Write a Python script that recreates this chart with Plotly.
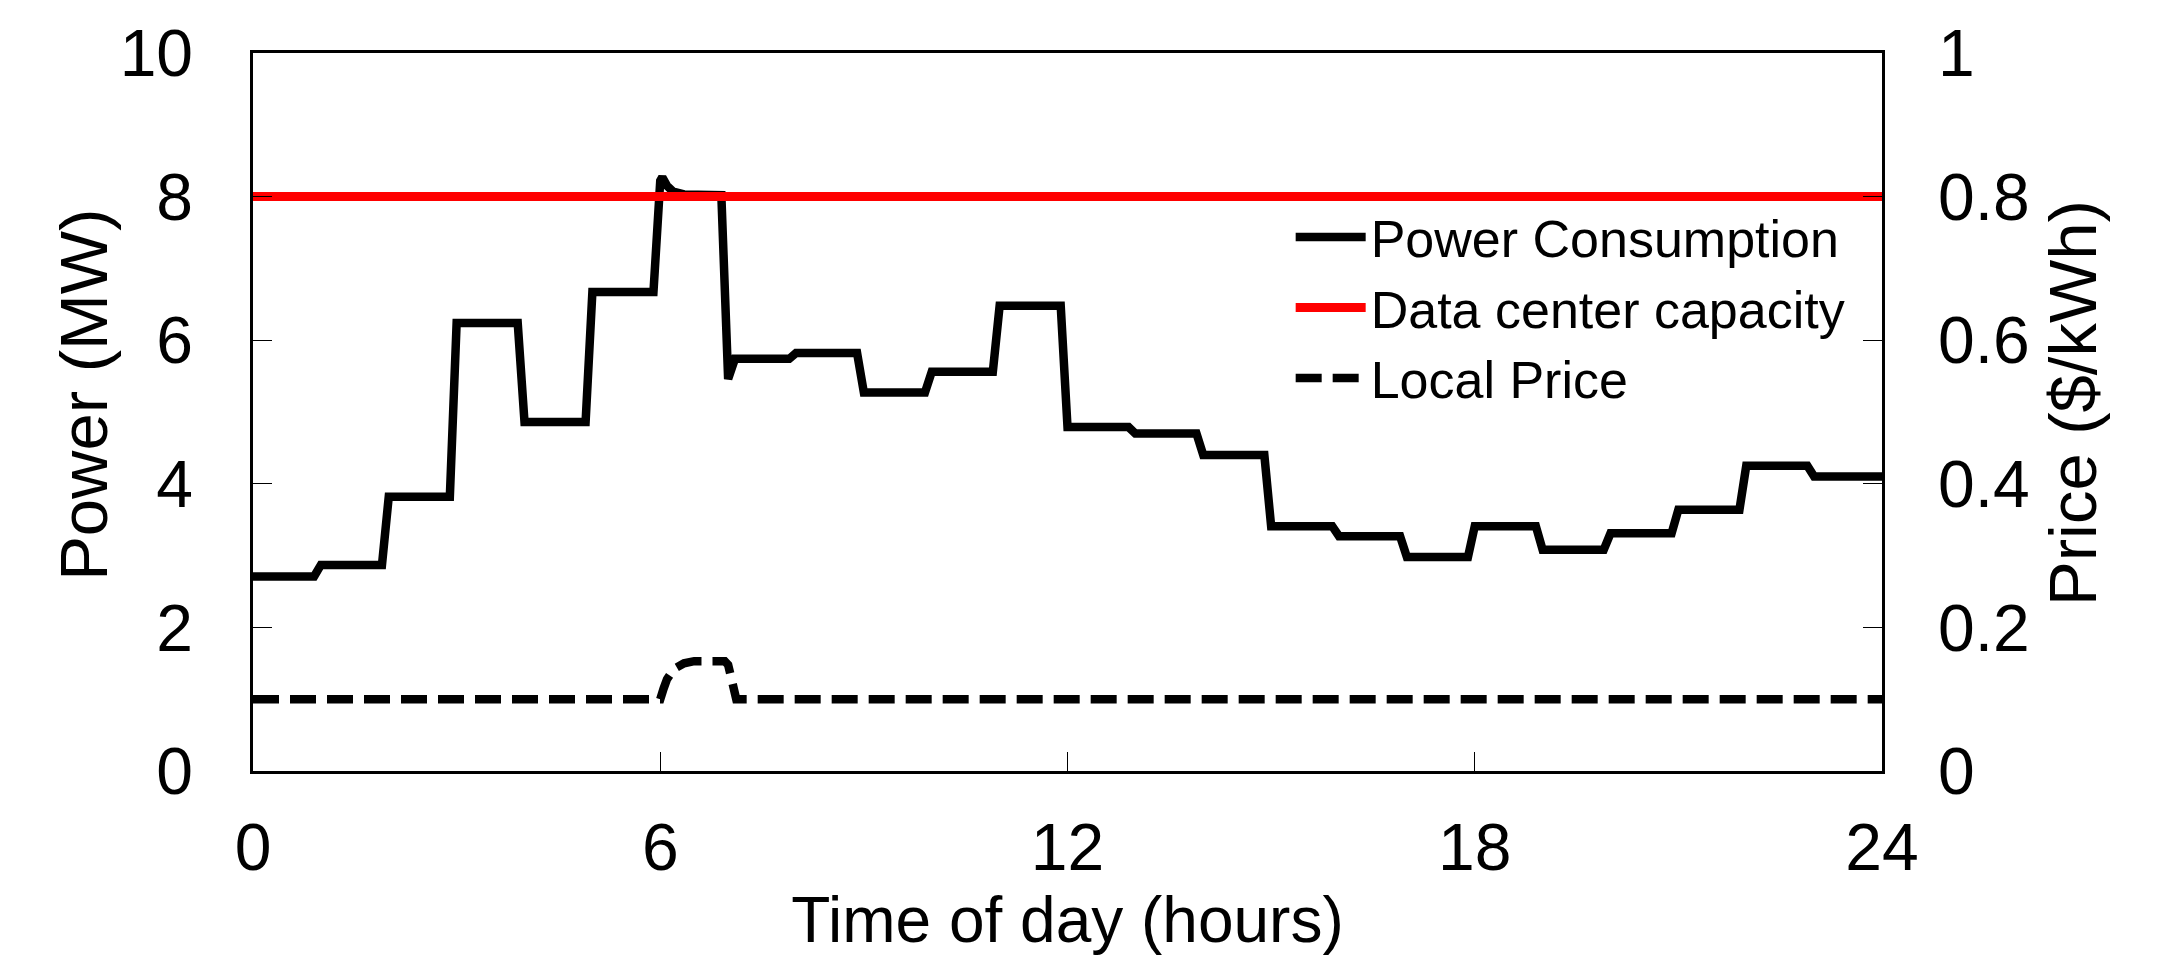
import plotly.graph_objects as go

# ---- data ----
hours = list(range(24))
power_mw = [2.71, 2.87, 3.82, 6.24, 4.86, 6.67, 8.02, 5.74, 5.82, 5.27, 5.56, 6.48,
            4.79, 4.70, 4.40, 3.41, 3.27, 2.98, 3.41, 3.08, 3.31, 3.64, 4.25, 4.10]
# transient overshoot at the start of hour 6 and dip at the start of hour 7
peak_t = [6.0, 6.03, 6.1, 6.19, 6.35, 6.5]
peak_mw = [8.22, 8.27, 8.15, 8.07, 8.03, 8.02]
dip_t = [7.0]
dip_mw = [5.46]

capacity_t = [0, 24]
capacity_mw = [8.0, 8.0]

price_t = [0, 6.0, 6.05, 6.1, 6.2, 6.35, 6.5, 6.95, 7.0, 7.05, 7.12, 24]
price_usd = [0.1, 0.1, 0.115, 0.128, 0.142, 0.150, 0.153, 0.153, 0.148, 0.125, 0.10, 0.10]

x_ticks = [0, 6, 12, 18, 24]

# ---- build stepped path (hourly values with a short ramp between hours) ----
ramp = 0.1
pt, pv = [], []
for h, v in zip(hours, power_mw):
    if h == 0:
        pt.append(h); pv.append(v)
    elif h == 6:
        pt.extend(peak_t); pv.extend(peak_mw)
    elif h == 7:
        pt.extend(dip_t); pv.extend(dip_mw)
        pt.append(h + ramp); pv.append(v)
    else:
        pt.append(h); pv.append(v)
    end = 24 if h == hours[-1] else h + 1 - ramp
    pt.append(end); pv.append(v)

FONT = "Liberation Sans, Arial, sans-serif"

fig = go.Figure()
fig.add_trace(go.Scatter(x=pt, y=pv, mode="lines", name="Power Consumption",
                         line=dict(color="black", width=8.5)))
fig.add_trace(go.Scatter(x=capacity_t, y=capacity_mw, mode="lines", name="Data center capacity",
                         line=dict(color="#ff0000", width=9)))
fig.add_trace(go.Scatter(x=price_t, y=price_usd, mode="lines", name="Local Price", yaxis="y2",
                         line=dict(color="black", width=8.5, dash="26px,11px")))

axis_common = dict(showline=True, linecolor="black", linewidth=2.5, ticks="inside",
                   ticklen=19, tickwidth=1.3, tickcolor="black", showgrid=False,
                   zeroline=False, automargin=False,
                   tickfont=dict(family=FONT, size=66, color="black"))

# the page body adds an 8px offset, so the figure is sized to fit the window
fig.update_layout(
    width=2155, height=953,
    margin=dict(l=245, r=281, t=45, b=190, autoexpand=False),
    paper_bgcolor="white", plot_bgcolor="white",
    font=dict(family=FONT, color="black"),
    showlegend=True,
    legend=dict(x=0.637, y=0.80, xanchor="left", yanchor="top",
                bgcolor="rgba(0,0,0,0)", borderwidth=0,
                font=dict(family=FONT, size=52, color="black"),
                itemwidth=70, tracegroupgap=0),
    xaxis=dict(range=[0, 24], tickvals=x_ticks, mirror=True,
               ticklabelstandoff=17,
               title=dict(text="Time of day (hours)", font=dict(family=FONT, size=64), standoff=15),
               **axis_common),
    yaxis=dict(range=[0, 10], dtick=2, ticklabelstandoff=44, **axis_common),
    yaxis2=dict(range=[0, 1], dtick=0.2, overlaying="y", side="right",
                ticklabelstandoff=40, **axis_common),
    annotations=[
        dict(text="Power (MW)", xref="paper", yref="paper", x=-0.1037, y=0.524,
             xanchor="center", yanchor="middle", textangle=-90, showarrow=False,
             font=dict(family=FONT, size=67, color="black")),
        dict(text="Price ($/kWh)", xref="paper", yref="paper", x=1.1166, y=0.5125,
             xanchor="center", yanchor="middle", textangle=-90, showarrow=False,
             font=dict(family=FONT, size=67, color="black")),
    ],
)

fig.write_html("out.html")
